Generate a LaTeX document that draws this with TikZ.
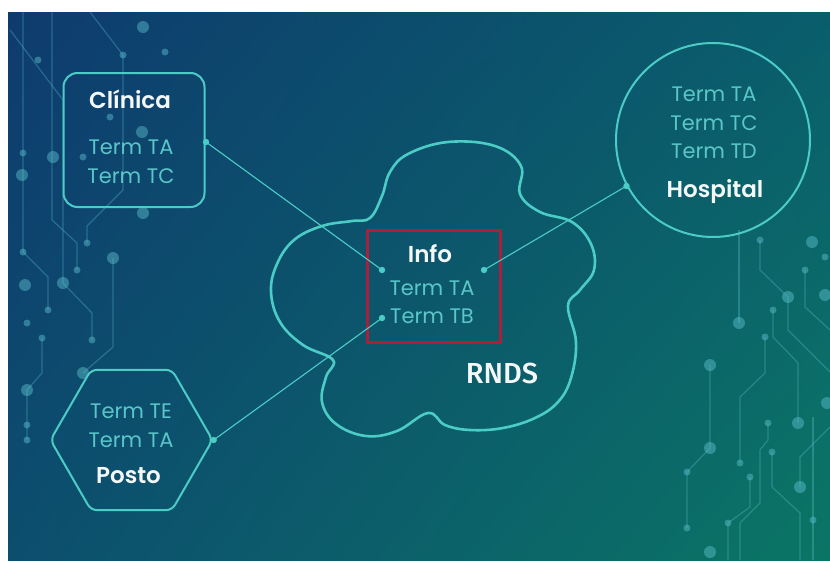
\documentclass[tikz,border=0pt]{standalone}
\usepackage{fontspec}
\setmainfont{Poppins}[BoldFont={* SemiBold}]
\newfontfamily\rndsfont{Fira Sans}[BoldFont={* Medium}]
\usetikzlibrary{shapes.geometric,shadings}

\definecolor{bgTL}{HTML}{0E3B6E}
\definecolor{bgTR}{HTML}{0A5E6C}
\definecolor{bgBL}{HTML}{0C4E6E}
\definecolor{bgBR}{HTML}{0B7565}
\definecolor{netcyan}{HTML}{4CCCC6}
\definecolor{termcyan}{HTML}{5AC6C8}
\definecolor{titlewhite}{HTML}{F4F8F8}
\definecolor{infored}{HTML}{AC1E3A}
\definecolor{tracecol}{HTML}{5FC3D0}

\tikzset{
  termtext/.style={text=termcyan, anchor=base, font=\fontsize{21}{24}\selectfont},
  titletext/.style={text=titlewhite, anchor=base, font=\fontsize{23}{26}\selectfont\bfseries},
  siteshape/.style={draw=netcyan, line width=2pt},
  link/.style={draw=netcyan, line width=1.1pt},
  port/.style={fill=netcyan},
  trace/.style={draw=tracecol, opacity=0.33, line width=1.2pt},
  pad/.style={fill=tracecol, opacity=0.45},
}

\begin{document}
\begin{tikzpicture}[x=1pt,y=-1pt]
  \useasboundingbox[fill=white] (0,0) rectangle (830,560);
  \shade[upper left=bgTL, upper right=bgTR, lower left=bgBL, lower right=bgBR] (8,12) rectangle (830,560);

  \draw[trace] (23,12) -- (23,252) -- (48,277) -- (48,310);
  \draw[trace] (52,12) -- (52,220) -- (77,243) -- (77,270);
  \draw[trace] (10,30) -- (63,100) -- (63,283) -- (92,313) -- (92,340);
  \draw[trace] (90,12) -- (123,55) -- (123,190) -- (87,226) -- (87,243);
  \draw[trace] (113,258) -- (113,347) -- (83,373);
  \draw[trace] (42,338) -- (42,373) -- (27,390) -- (27,440);
  \foreach \x/\y/\r in {143/27/6, 165/52/3.5, 123/55/3.5, 38/60/3.5, 110/117/3.5, 142/132/6,
      53/157/6, 83/157/3.5, 23/153/3.5, 22/175/6, 143/213/6, 23/252/3.5, 48/310/3.5,
      77/270/3.5, 63/283/6, 92/340/3.5, 87/243/3.5, 113/258/6, 83/373/6, 25/285/6,
      27/323/3.5, 42/338/3.5, 27/390/6, 27/425/3.5, 27/440/3.5}
    \fill[pad] (\x,\y) circle (\r);

  \draw[trace] (739,230) -- (739,323);
  \draw[trace] (760,240) -- (760,270) -- (788,297) -- (788,330) -- (830,372);
  \draw[trace] (773,310) -- (773,337) -- (798,363) -- (798,423);
  \draw[trace] (765,337) -- (765,373) -- (740,397) -- (740,463);
  \draw[trace] (710,365) -- (710,448) -- (687,472) -- (687,528);
  \draw[trace] (768,423) -- (768,440) -- (760,450) -- (760,503) -- (740,523) -- (740,560);
  \draw[trace] (772,452) -- (772,487) -- (800,513) -- (800,560);
  \draw[trace] (750,477) -- (750,507) -- (728,523) -- (728,560);
  \draw[trace] (805,270) -- (805,307) -- (830,330);
  \draw[trace] (830,427) -- (800,457) -- (800,487);
  \draw[trace] (813,417) -- (813,560);
  \foreach \x/\y/\r in {739/323/6, 760/240/3.5, 788/297/6, 773/310/3.5, 798/423/6, 765/337/3.5,
      740/463/3.5, 710/365/6, 710/448/6, 687/472/3.5, 687/528/3.5, 768/423/3.5, 772/452/3.5,
      750/477/3.5, 728/523/3.5, 805/270/3.5, 812/242/6, 825/257/3.5, 825/295/6, 800/487/6,
      813/520/3.5, 827/403/6, 710/552/6}
    \fill[pad] (\x,\y) circle (\r);

  \draw[draw=netcyan, line width=2.6pt] plot[smooth cycle, tension=0.65] coordinates {
      (370,218) (382,196) (390,172) (408,154) (448,142) (495,146) (521,166) (520,194)
      (540,212) (572,222) (591,244) (594,270) (580,290) (568,306) (576,342) (571,378)
      (558,402) (535,418) (503,428) (470,430) (445,425) (428,413) (397,431) (366,436)
      (336,424) (322,402) (326,377) (333,360) (303,345) (280,322) (271,292) (277,264)
      (294,240) (322,226) (352,221)};

  \node[siteshape, rounded corners=14pt, minimum width=141pt, minimum height=134pt] (clinica) at (134,140) {};
  \node[titletext] (clinicaName) at (130,108) {Clínica};
  \node[termtext] (clinicaTA) at (131,154) {Term TA};
  \node[termtext] (clinicaTC) at (131,183) {Term TC};

  \node[siteshape, circle, minimum size=194pt] (hospital) at (713,140) {};
  \node[termtext] (hospitalTA) at (714,101) {Term TA};
  \node[termtext] (hospitalTC) at (714,130) {Term TC};
  \node[termtext] (hospitalTD) at (714,158) {Term TD};
  \node[titletext] (hospitalName) at (715,197) {Hospital};

  \node[siteshape, regular polygon, regular polygon sides=6, minimum size=162pt, rounded corners=6pt] (posto) at (131.5,440) {};
  \node[termtext] (postoTE) at (131,418) {Term TE};
  \node[termtext] (postoTA) at (131,447) {Term TA};
  \node[titletext] (postoName) at (128.5,483) {Posto};

  \node[draw=infored, line width=3pt, minimum width=133pt, minimum height=112pt] (info) at (433.5,286) {};
  \node[titletext] (infoName) at (430,262) {Info};
  \node[termtext] (infoTA) at (432,295) {Term TA};
  \node[termtext] (infoTB) at (432,323) {Term TB};
  \node[text=titlewhite, anchor=base, font=\rndsfont\fontsize{29}{32}\selectfont\bfseries] (rnds) at (502,383) {RNDS};

  \coordinate (clinicaPort) at (206,142);
  \coordinate (hospitalPort) at (hospital.208);
  \coordinate (postoPort) at (posto.east);
  \coordinate (infoPortA) at (382,270);
  \coordinate (infoPortB) at (484,270);
  \coordinate (infoPortC) at (382,318);

  \draw[link] (clinicaPort) -- (infoPortA);
  \draw[link] (hospitalPort) -- (infoPortB);
  \draw[link] (postoPort) -- (infoPortC);
  \foreach \p in {clinicaPort,hospitalPort,postoPort,infoPortA,infoPortB,infoPortC}
    \fill[port] (\p) circle (3.2);
\end{tikzpicture}
\end{document}
